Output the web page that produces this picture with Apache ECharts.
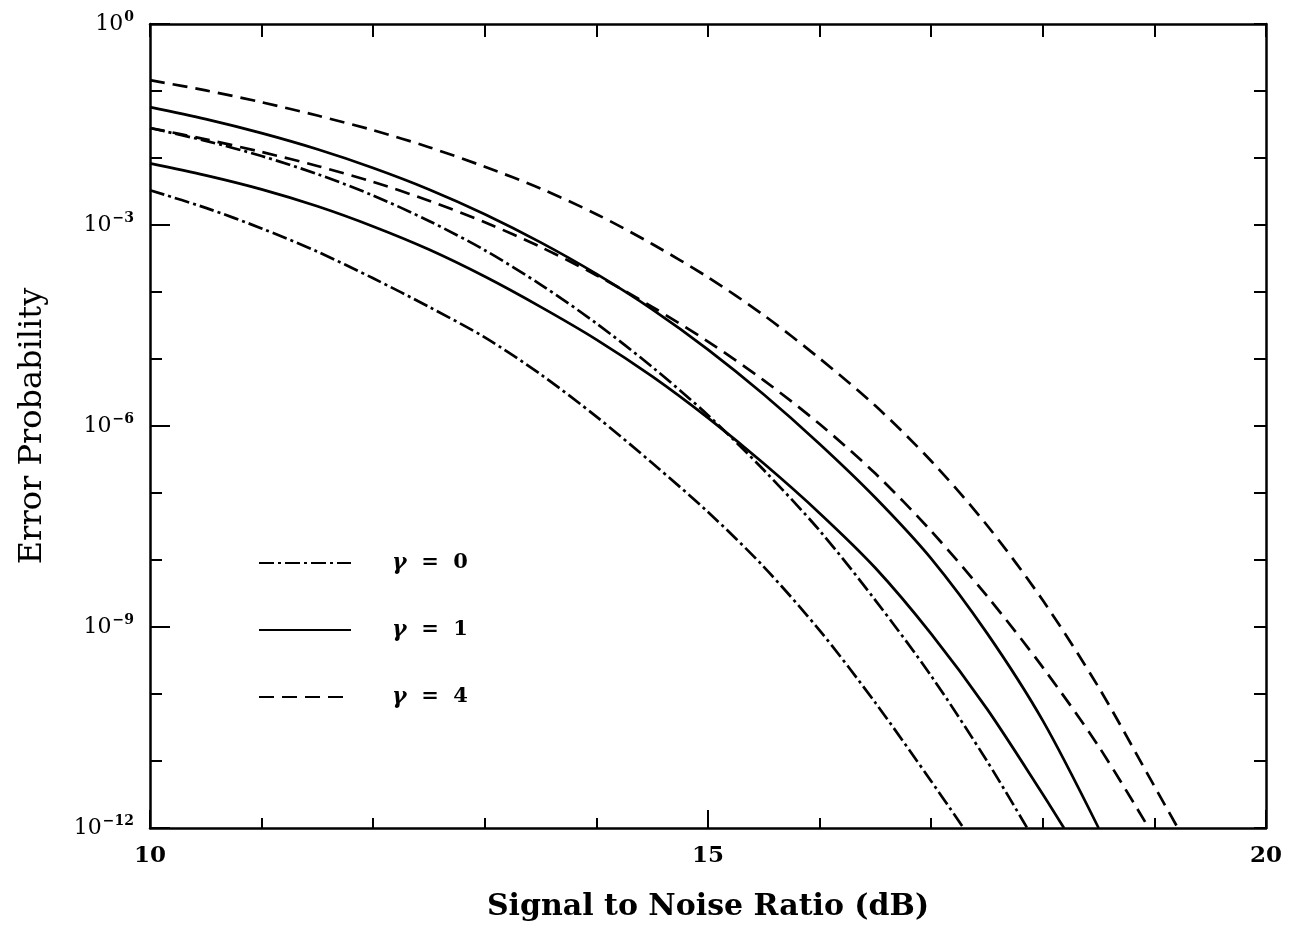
<!DOCTYPE html>
<html>
<head>
<meta charset="utf-8">
<script src="https://cdn.jsdelivr.net/npm/echarts@6/dist/echarts.min.js"></script>
<style>
  html, body { margin: 0; padding: 0; background: #fff; }
  #chart { width: 1299px; height: 930px; }
</style>
</head>
<body>
<div id="chart"></div>
<script>
// ---- Data (SNR in dB, error probability) ----
const legendNames = ['γ = 0', 'γ = 1', 'γ = 4'];
const xTickLabels = [10, 15, 20];

// gamma = 0, lower (dash-dot)
const snrG0a = [10, 10.5, 11, 11.5, 12, 12.5, 13, 13.5, 14, 14.5, 15, 15.5, 16, 16.5, 17, 17.29];
const perG0a = [3.3e-3, 1.8e-3, 8.9e-4, 4.0e-4, 1.6e-4, 6.0e-5, 2.1e-5, 5.9e-6, 1.38e-6, 2.8e-7, 5.2e-8, 7.9e-9, 8.9e-10, 7.4e-11, 5.0e-12, 1e-12];
// gamma = 0, upper (dash-dot)
const snrG0b = [10, 10.5, 11, 11.5, 12, 12.5, 13, 13.5, 14, 14.5, 15, 15.5, 16, 16.5, 17, 17.5, 17.86];
const perG0b = [2.8e-2, 1.8e-2, 1.07e-2, 5.75e-3, 2.75e-3, 1.15e-3, 4.2e-4, 1.29e-4, 3.4e-5, 7.6e-6, 1.45e-6, 2.2e-7, 2.75e-8, 2.5e-9, 1.86e-10, 1.0e-11, 1e-12];
// gamma = 1, lower (solid)
const snrG1a = [10, 10.5, 11, 11.5, 12, 12.5, 13, 13.5, 14, 14.5, 15, 15.5, 16, 16.5, 17, 17.5, 18, 18.19];
const perG1a = [8.3e-3, 5.5e-3, 3.4e-3, 1.9e-3, 9.5e-4, 4.3e-4, 1.7e-4, 6.0e-5, 1.95e-5, 5.5e-6, 1.32e-6, 2.75e-7, 5.0e-8, 7.6e-9, 7.9e-10, 6.0e-11, 3.2e-12, 1e-12];
// gamma = 1, upper (solid)
const snrG1b = [10, 10.5, 11, 11.5, 12, 12.5, 13, 13.5, 14, 14.5, 15, 15.5, 16, 16.5, 17, 17.5, 18, 18.5];
const perG1b = [5.75e-2, 3.8e-2, 2.35e-2, 1.35e-2, 7.1e-3, 3.4e-3, 1.45e-3, 5.5e-4, 1.86e-4, 5.5e-5, 1.38e-5, 2.95e-6, 5.4e-7, 8.5e-8, 1.05e-8, 8.1e-10, 4.0e-11, 1e-12];
// gamma = 4, lower (dashed)
const snrG4a = [10, 10.5, 11, 11.5, 12, 12.5, 13, 13.5, 14, 14.5, 15, 15.5, 16, 16.5, 17, 17.5, 18, 18.5, 18.95];
const perG4a = [2.8e-2, 1.9e-2, 1.23e-2, 7.6e-3, 4.4e-3, 2.3e-3, 1.1e-3, 4.7e-4, 1.78e-4, 6.0e-5, 1.82e-5, 4.8e-6, 1.07e-6, 1.95e-7, 2.7e-8, 2.9e-9, 2.5e-10, 1.66e-11, 1e-12];
// gamma = 4, upper (dashed)
const snrG4b = [10, 10.5, 11, 11.5, 12, 12.5, 13, 13.5, 14, 14.5, 15, 15.5, 16, 16.5, 17, 17.5, 18, 18.5, 19, 19.21];
const perG4b = [0.145, 0.102, 6.8e-2, 4.3e-2, 2.6e-2, 1.45e-2, 7.4e-3, 3.5e-3, 1.45e-3, 5.2e-4, 1.66e-4, 4.5e-5, 1.02e-5, 2.0e-6, 3.0e-7, 3.3e-8, 2.5e-9, 1.26e-10, 4.2e-12, 1e-12];

// ---- Styling ----
const SERIF = '"DejaVu Serif", "Liberation Serif", serif';
const DASHDOT = [15, 4, 3, 4];
const DASHED = [15, 8];
const LW = 2.7;

function pairs(xs, ys) { return xs.map((x, i) => [x, ys[i]]); }

function lineSeries(name, xs, ys, type) {
  return {
    name: name,
    type: 'line',
    xAxisIndex: 0,
    yAxisIndex: 0,
    data: pairs(xs, ys),
    smooth: 0.3,
    showSymbol: false,
    symbol: 'none',
    clip: true,
    silent: true,
    itemStyle: { color: '#000', opacity: 0 },
    lineStyle: { color: '#000', width: LW, type: type },
    emphasis: { disabled: true }
  };
}

const axisLine = { show: true, lineStyle: { color: '#000', width: 2.5 } };

function yLabel(v) {
  const e = Math.round(Math.log10(v));
  const s = e < 0 ? '\u2212' + (-e) : String(e);
  return '{b|10}{s|' + s + '}';
}

const chart = echarts.init(document.getElementById('chart'), null, { renderer: 'canvas' });

chart.setOption({
  backgroundColor: '#fff',
  animation: false,
  grid: { left: 150, right: 33, top: 24, bottom: 102, containLabel: false },
  legend: {
    orient: 'vertical',
    left: 253,
    top: 547,
    itemWidth: 92,
    itemHeight: 20,
    itemGap: 45,
    selectedMode: false,
    data: legendNames,
    itemStyle: { opacity: 0 },
    formatter: function (name) { return '{g|γ}' + name.slice(1).replace(/ /g, '  '); },
    textStyle: {
      color: '#000',
      fontFamily: SERIF,
      fontWeight: 'bold',
      fontSize: 21,
      padding: [0, 0, 0, 36],
      rich: {
        g: { fontFamily: SERIF, fontStyle: 'italic', fontWeight: 'bold', fontSize: 22, color: '#000' }
      }
    }
  },
  xAxis: [
    {
      type: 'value', position: 'bottom', min: 10, max: 20, interval: 1,
      axisLine: axisLine,
      axisTick: { show: true, inside: true, length: 10, lineStyle: { color: '#000', width: 2 } },
      axisLabel: { show: false },
      splitLine: { show: false },
      name: 'Signal to Noise Ratio (dB)',
      nameLocation: 'middle',
      nameGap: 64,
      nameTextStyle: { fontFamily: SERIF, fontWeight: 'bold', fontSize: 30, color: '#000' }
    },
    {
      type: 'value', position: 'bottom', min: 10, max: 20, interval: 5,
      axisLine: { show: false },
      axisTick: { show: true, inside: true, length: 18, lineStyle: { color: '#000', width: 2 } },
      axisLabel: {
        show: true, margin: 17, color: '#000', fontFamily: SERIF, fontWeight: 'bold', fontSize: 23,
        formatter: function (v) { return xTickLabels.indexOf(v) >= 0 ? String(v) : ''; }
      },
      splitLine: { show: false }
    },
    {
      type: 'value', position: 'top', min: 10, max: 20, interval: 1,
      axisLine: axisLine,
      axisTick: { show: true, inside: true, length: 13, lineStyle: { color: '#000', width: 2 } },
      axisLabel: { show: false },
      splitLine: { show: false }
    }
  ],
  yAxis: [
    {
      type: 'log', logBase: 10, position: 'left', min: 1e-12, max: 1, interval: 1,
      axisLine: axisLine,
      axisTick: { show: true, inside: true, length: 12, lineStyle: { color: '#000', width: 2 } },
      axisLabel: { show: false },
      splitLine: { show: false },
      minorTick: { show: false },
      name: 'Error Probability',
      nameLocation: 'middle',
      nameGap: 101,
      nameRotate: 90,
      nameTextStyle: { fontFamily: SERIF, fontSize: 32, color: '#000' }
    },
    {
      type: 'log', logBase: 10, position: 'left', min: 1e-12, max: 1, interval: 3,
      axisLine: { show: false },
      axisTick: { show: true, inside: true, length: 20, lineStyle: { color: '#000', width: 2 } },
      axisLabel: {
        show: true, margin: 16, color: '#000',
        formatter: yLabel,
        rich: {
          b: { fontFamily: SERIF, fontSize: 22, color: '#000' },
          s: { fontFamily: SERIF, fontWeight: 'bold', fontSize: 14, color: '#000', padding: [0, 0, 14, 1] }
        }
      },
      splitLine: { show: false }
    },
    {
      type: 'log', logBase: 10, position: 'right', min: 1e-12, max: 1, interval: 1,
      axisLine: axisLine,
      axisTick: { show: true, inside: true, length: 12, lineStyle: { color: '#000', width: 2 } },
      axisLabel: { show: false },
      splitLine: { show: false }
    }
  ],
  series: [
    lineSeries(legendNames[0], snrG0a, perG0a, DASHDOT),
    lineSeries(legendNames[0], snrG0b, perG0b, DASHDOT),
    lineSeries(legendNames[1], snrG1a, perG1a, 'solid'),
    lineSeries(legendNames[1], snrG1b, perG1b, 'solid'),
    lineSeries(legendNames[2], snrG4a, perG4a, DASHED),
    lineSeries(legendNames[2], snrG4b, perG4b, DASHED)
  ]
});
</script>
</body>
</html>
